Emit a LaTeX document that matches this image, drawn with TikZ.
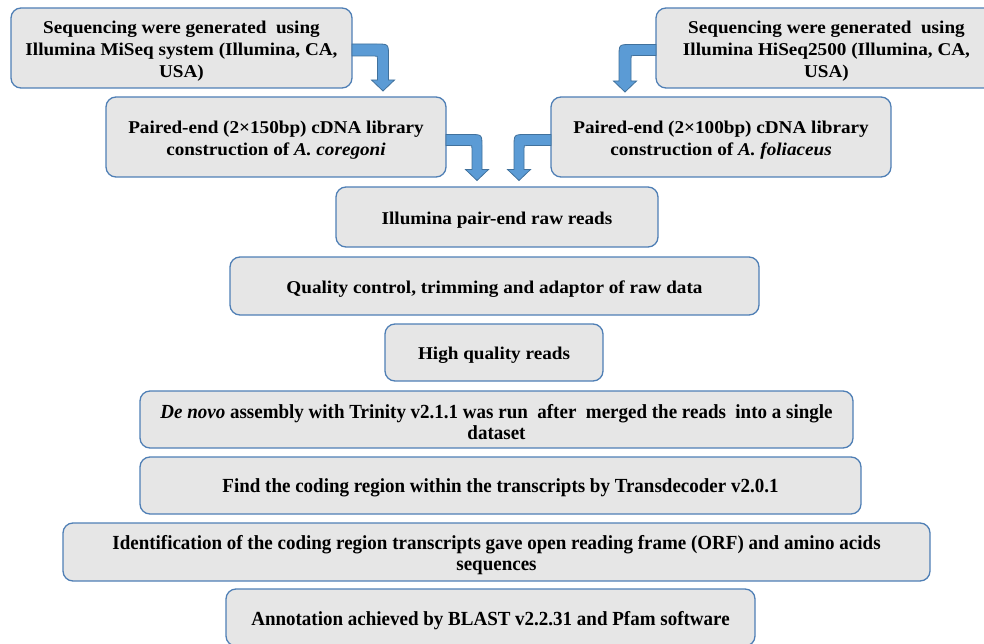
\documentclass[tikz,border=0pt]{standalone}
\usepackage{fontspec}
\setmainfont{Liberation Serif}
\newfontfamily\upfont{Liberation Serif}[FakeStretch=1.065]
\newfontfamily\lowfont{Liberation Serif}[FakeStretch=0.95]
\definecolor{boxfill}{HTML}{E6E6E6}
\definecolor{boxline}{HTML}{4F7FB5}
\definecolor{arrowfill}{HTML}{5B9BD5}
\definecolor{arrowline}{HTML}{41719C}
\tikzset{
  boxshape/.style={rounded corners=10pt, draw=boxline, line width=1.3pt, fill=boxfill, inner sep=0pt},
  uptext/.style={align=center, inner sep=0pt, font=\upfont\bfseries\fontsize{18}{22}\selectfont},
  lowtext/.style={align=center, inner sep=0pt, font=\lowfont\bfseries\fontsize{20}{21}\selectfont},
  bentarr/.style={fill=arrowfill, draw=arrowline, line width=0.8pt, line join=miter}
}
% #1 name, #2 cx, #3 cy, #4 width, #5 height, #6 text style, #7 text
\newcommand{\flowstep}[7]{%
  \node[boxshape, minimum width=#4pt, minimum height=#5pt] (#1) at (#2,#3) {};
  \node[#6] (#1-t) at ([yshift=-2.7pt]#1.center) {#7};}
% #1 edge x, #2 bar centre y, #3 shaft centre x, #4 tip y, #5 direction, #6 bar half, #7 shaft half
\newcommand{\bentarrow}[7]{%
  \path[bentarr] (#1,#2-#6) -- (#3+#5*#7-#5*12,#2-#6)
    .. controls (#3+#5*#7,#2-#6) .. (#3+#5*#7,#2-#6+12)
    -- (#3+#5*#7,#4-11) -- (#3+#5*11.5,#4-11) -- (#3,#4) -- (#3-#5*11.5,#4-11)
    -- (#3-#5*#7,#4-11) -- (#3-#5*#7,#2+#6+3)
    .. controls (#3-#5*#7,#2+#6) .. (#3-#5*#7-#5*3,#2+#6)
    -- (#1,#2+#6) -- cycle;}
\begin{document}
\begin{tikzpicture}[x=1pt,y=-1pt]
\useasboundingbox (0,0) rectangle (984,644);
\clip (0,0) rectangle (984,644);
\flowstep{tl}{181.5}{48}{341}{80}{uptext}
  {Sequencing were generated\ \ using\\Illumina MiSeq system (Illumina, CA,\\USA)}
\flowstep{tr}{826.5}{48}{341}{80}{uptext}
  {Sequencing were generated\ \ using\\Illumina HiSeq2500 (Illumina, CA,\\USA)}
\flowstep{ml}{276}{137}{340}{80}{uptext}
  {Paired-end (2×150bp) cDNA library\\construction of \textit{A. coregoni}}
\flowstep{mr}{721}{137}{340}{80}{uptext}
  {Paired-end (2×100bp) cDNA library\\construction of \textit{A. foliaceus}}
\flowstep{ill}{497}{217}{322}{60}{uptext}
  {Illumina pair-end raw reads}
\flowstep{qc}{494.5}{286}{529}{58}{uptext}
  {Quality control, trimming and adaptor of raw data}
\flowstep{hq}{494}{352.5}{218}{57}{uptext}
  {High quality reads}
\flowstep{dn}{496.5}{419.5}{713}{57}{lowtext}
  {\textit{De novo} assembly with Trinity v2.1.1 was run\ \ after\ \ merged the reads\ \ into a single\\dataset}
\flowstep{fc}{500.5}{485.5}{721}{57}{lowtext}
  {Find the coding region within the transcripts by Transdecoder v2.0.1}
\flowstep{id}{496.5}{552}{867}{58}{lowtext}
  {Identification of the coding region transcripts gave open reading frame (ORF) and amino acids\\sequences}
\flowstep{an}{490.5}{617.5}{529}{57}{lowtext}
  {Annotation achieved by BLAST v2.2.31 and Pfam software}
% bent arrows
\bentarrow{352}{50}{383}{91}{1}{6}{5.5}
\bentarrow{656}{50}{625}{92}{-1}{5.5}{6}
\bentarrow{446}{140}{477}{180.5}{1}{5.5}{5}
\bentarrow{551}{140}{519}{180.5}{-1}{5.5}{5}
\end{tikzpicture}
\end{document}
